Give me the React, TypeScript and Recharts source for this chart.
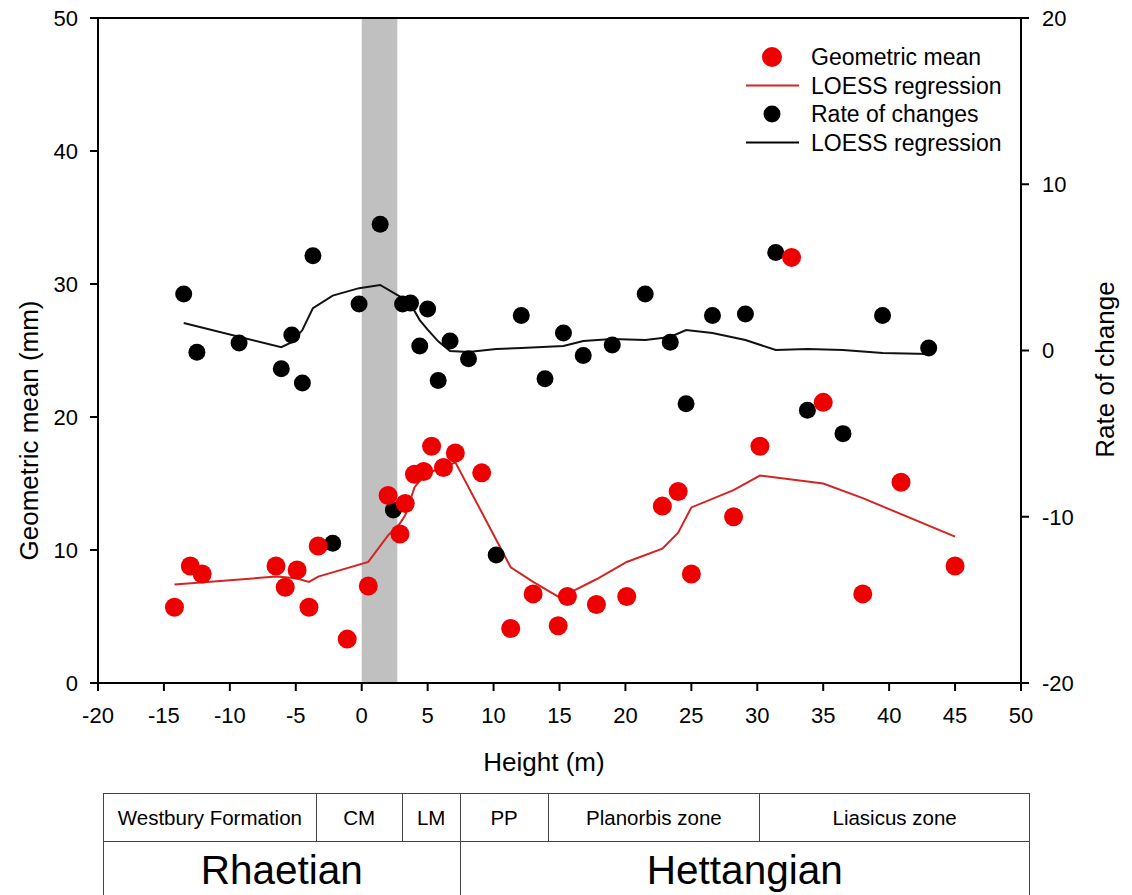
import React from 'react';
import {
  ComposedChart, XAxis, YAxis, Scatter, ReferenceArea, ReferenceLine,
} from 'recharts';

// Geometric mean (left axis, mm)
const gmX = [-14.2, -13.0, -12.1, -6.5, -5.8, -4.9, -4.0, -3.3, -1.1, 0.5, 2.0, 2.9, 3.3, 4.0, 4.7, 5.3, 6.2, 7.1, 9.1, 11.3, 13.0, 14.9, 15.6, 17.8, 20.1, 22.8, 24.0, 25.0, 28.2, 30.2, 32.6, 35.0, 38.0, 40.9, 45.0];
const gmY = [5.7, 8.8, 8.2, 8.8, 7.2, 8.5, 5.7, 10.3, 3.3, 7.3, 14.1, 11.2, 13.5, 15.7, 15.9, 17.8, 16.2, 17.3, 15.8, 4.1, 6.7, 4.3, 6.5, 5.9, 6.5, 13.3, 14.4, 8.2, 12.5, 17.8, 32.0, 21.1, 6.7, 15.1, 8.8];

// LOESS of geometric mean
const gmLoessX = [-14.2, -6.5, -5.8, -4.9, -4.0, -3.3, 0.5, 2.0, 2.9, 3.3, 4.0, 4.7, 5.3, 6.2, 7.1, 11.3, 13.0, 14.9, 15.6, 17.8, 20.1, 22.8, 24.0, 25.0, 28.2, 30.2, 35.0, 38.0, 45.0];
const gmLoessY = [7.4, 8.0, 7.95, 7.85, 7.6, 8.0, 9.1, 11.1, 12.0, 12.6, 14.7, 15.6, 15.9, 16.2, 16.6, 8.7, 7.6, 6.5, 6.7, 7.8, 9.1, 10.1, 11.3, 13.2, 14.5, 15.6, 15.0, 13.9, 11.0];

// Rate of changes (right axis)
const rcX = [-13.5, -12.5, -9.3, -6.1, -5.3, -4.5, -3.7, -2.2, -0.2, 1.4, 2.4, 3.1, 3.7, 4.4, 5.0, 5.8, 6.7, 8.1, 10.2, 12.1, 13.9, 15.3, 16.8, 19.0, 21.5, 23.4, 24.6, 26.6, 29.1, 31.4, 33.8, 36.5, 39.5, 43.0];
const rcY = [3.4, -0.1, 0.45, -1.1, 0.93, -1.95, 5.7, -11.6, 2.8, 7.6, -9.6, 2.8, 2.85, 0.27, 2.5, -1.8, 0.57, -0.5, -12.3, 2.1, -1.7, 1.05, -0.3, 0.33, 3.4, 0.5, -3.2, 2.1, 2.2, 5.9, -3.6, -5.0, 2.1, 0.15];

// LOESS of rate of changes
const rcLoessX = [-13.5, -6.1, -5.3, -4.5, -3.7, -2.2, -0.2, 1.4, 3.1, 3.7, 4.4, 5.0, 5.8, 6.7, 8.1, 10.2, 12.1, 15.3, 16.8, 19.0, 21.5, 23.4, 24.6, 26.6, 29.1, 31.4, 33.8, 36.5, 39.5, 43.0];
const rcLoessY = [1.65, 0.2, 0.5, 1.23, 2.55, 3.3, 3.75, 3.94, 3.15, 2.8, 1.83, 1.25, 0.55, -0.03, -0.09, 0.09, 0.15, 0.27, 0.57, 0.69, 0.63, 0.81, 1.23, 1.05, 0.63, 0.03, 0.09, 0.03, -0.15, -0.21];

// Axes
const xTicks = [-20, -15, -10, -5, 0, 5, 10, 15, 20, 25, 30, 35, 40, 45, 50];
const leftTicks = [0, 10, 20, 30, 40, 50];
const rightTicks = [-20, -10, 0, 10, 20];
const bandStart = 0;
const bandEnd = 2.7;

// Legend
const legendLabels = ['Geometric mean', 'LOESS regression', 'Rate of changes', 'LOESS regression'];

// Stratigraphic table
const zoneNames = ['Westbury Formation', 'CM', 'LM', 'PP', 'Planorbis zone', 'Liasicus zone'];
const zoneWidths = [213, 86, 58, 88, 212, 270];
const stageNames = ['Rhaetian', 'Hettangian'];
const stageWidths = [357, 570];

const zip = (xs: number[], ys: number[]) => xs.map((x, i) => ({ x, y: ys[i] }));
const gmData = zip(gmX, gmY);
const gmLoess = zip(gmLoessX, gmLoessY);
const rcData = zip(rcX, rcY);
const rcLoess = zip(rcLoessX, rcLoessY);

const RED = '#ee0000';
const RED_LINE = '#d42424';
const FONT = '"Liberation Sans", Arial, Helvetica, sans-serif';

const axisStyle = { stroke: '#000', strokeWidth: 2 };
const tickStyle = { fill: '#000', fontSize: 22, fontFamily: FONT };

const RedDot = (p: any) => <circle cx={p.cx} cy={p.cy} r={9.5} fill={RED} />;
const BlackDot = (p: any) => <circle cx={p.cx} cy={p.cy} r={8.5} fill="#000" />;
const NoDot = () => <g />;

const LegendBox = () => {
  const rowH = 28.5;
  return (
    <svg width={280} height={120} style={{ fontFamily: FONT, display: 'block' }}>
      {legendLabels.map((t, i) => {
        const y = 14 + i * rowH;
        let sym: React.ReactNode = null;
        if (i === 0) sym = <circle cx={32} cy={y} r={10} fill={RED} />;
        if (i === 1) sym = <line x1={6} x2={59} y1={y} y2={y} stroke={RED_LINE} strokeWidth={2} />;
        if (i === 2) sym = <circle cx={32} cy={y} r={8.5} fill="#000" />;
        if (i === 3) sym = <line x1={6} x2={59} y1={y} y2={y} stroke="#000" strokeWidth={2} />;
        return (
          <g key={i}>
            {sym}
            <text x={71} y={y} fontSize={23} dominantBaseline="central" fill="#000">{t}</text>
          </g>
        );
      })}
    </svg>
  );
};

const cellBase: React.CSSProperties = {
  boxSizing: 'border-box',
  borderRight: '1px solid #444',
  display: 'flex',
  alignItems: 'center',
  justifyContent: 'center',
  color: '#000',
  whiteSpace: 'nowrap',
};

export default function App() {
  return (
    <div style={{ position: 'absolute', left: 0, top: 0, width: 1132, height: 895, background: '#fff', overflow: 'hidden', fontFamily: FONT }}>
      <ComposedChart width={1132} height={780} margin={{ top: 18, right: 0, bottom: 0, left: 0 }}>
        <XAxis
          type="number"
          dataKey="x"
          domain={[-20, 50]}
          ticks={xTicks}
          allowDataOverflow
          height={97}
          tickSize={8}
          tickMargin={16}
          tick={tickStyle}
          axisLine={axisStyle}
          tickLine={axisStyle}
          label={{
            content: (props: any) => {
              const vb = props.viewBox || {};
              return (
                <text x={544} y={(vb.y ?? 683) + 79} textAnchor="middle" dominantBaseline="central" fontSize={26} fontFamily={FONT} fill="#000">
                  Height (m)
                </text>
              );
            },
          }}
        />
        <YAxis
          yAxisId="L"
          dataKey="y"
          type="number"
          orientation="left"
          domain={[0, 50]}
          ticks={leftTicks}
          allowDataOverflow
          width={98}
          tickSize={8}
          tickMargin={12}
          tick={tickStyle}
          axisLine={axisStyle}
          tickLine={axisStyle}
          label={{
            content: (props: any) => {
              const vb = props.viewBox || {};
              const cy = (vb.y ?? 18) + (vb.height ?? 665) / 2 + 80;
              return (
                <text x={29} y={cy} transform={`rotate(-90 29 ${cy})`} textAnchor="middle" dominantBaseline="central" fontSize={26} fontFamily={FONT} fill="#000">
                  Geometric mean (mm)
                </text>
              );
            },
          }}
        />
        <YAxis
          yAxisId="R"
          dataKey="y"
          type="number"
          orientation="right"
          domain={[-20, 20]}
          ticks={rightTicks}
          allowDataOverflow
          width={111}
          tickSize={8}
          tickMargin={13}
          tick={tickStyle}
          axisLine={axisStyle}
          tickLine={axisStyle}
          label={{
            content: (props: any) => {
              const vb = props.viewBox || {};
              const cy = (vb.y ?? 18) + (vb.height ?? 665) / 2 + 19;
              return (
                <text x={1105} y={cy} transform={`rotate(-90 1105 ${cy})`} textAnchor="middle" dominantBaseline="central" fontSize={26} fontFamily={FONT} fill="#000">
                  Rate of change
                </text>
              );
            },
          }}
        />
        <ReferenceArea yAxisId="L" x1={bandStart} x2={bandEnd} y1={0} y2={50} fill="#c0c0c0" fillOpacity={1} stroke="none" />
        <ReferenceLine yAxisId="L" y={50} stroke="#000" strokeWidth={2} />
        <Scatter yAxisId="L" name="LOESS regression" data={gmLoess} dataKey="y" line={{ stroke: RED_LINE, strokeWidth: 2 }} lineJointType="linear" shape={NoDot} isAnimationActive={false} />
        <Scatter yAxisId="R" name="LOESS regression" data={rcLoess} dataKey="y" line={{ stroke: '#111', strokeWidth: 2 }} lineJointType="linear" shape={NoDot} isAnimationActive={false} />
        <Scatter yAxisId="R" name="Rate of changes" data={rcData} dataKey="y" shape={BlackDot} isAnimationActive={false} />
        <Scatter yAxisId="L" name="Geometric mean" data={gmData} dataKey="y" shape={RedDot} isAnimationActive={false} />
      </ComposedChart>
      <div style={{ position: 'absolute', left: 740, top: 43 }}>
        <LegendBox />
      </div>
      <div style={{ position: 'absolute', left: 103, top: 793, width: 927, borderTop: '1px solid #444', borderLeft: '1px solid #444', boxSizing: 'border-box' }}>
        <div style={{ display: 'flex', height: 48, borderBottom: '1px solid #444', boxSizing: 'border-box' }}>
          {zoneNames.map((z, i) => (
            <div key={z} style={{ ...cellBase, width: zoneWidths[i], fontSize: 20.5 }}>{z}</div>
          ))}
        </div>
        <div style={{ display: 'flex', height: 66 }}>
          {stageNames.map((s, i) => (
            <div key={s} style={{ ...cellBase, width: stageWidths[i], fontSize: 40.5, alignItems: 'flex-start', paddingTop: 5 }}>{s}</div>
          ))}
        </div>
      </div>
    </div>
  );
}
